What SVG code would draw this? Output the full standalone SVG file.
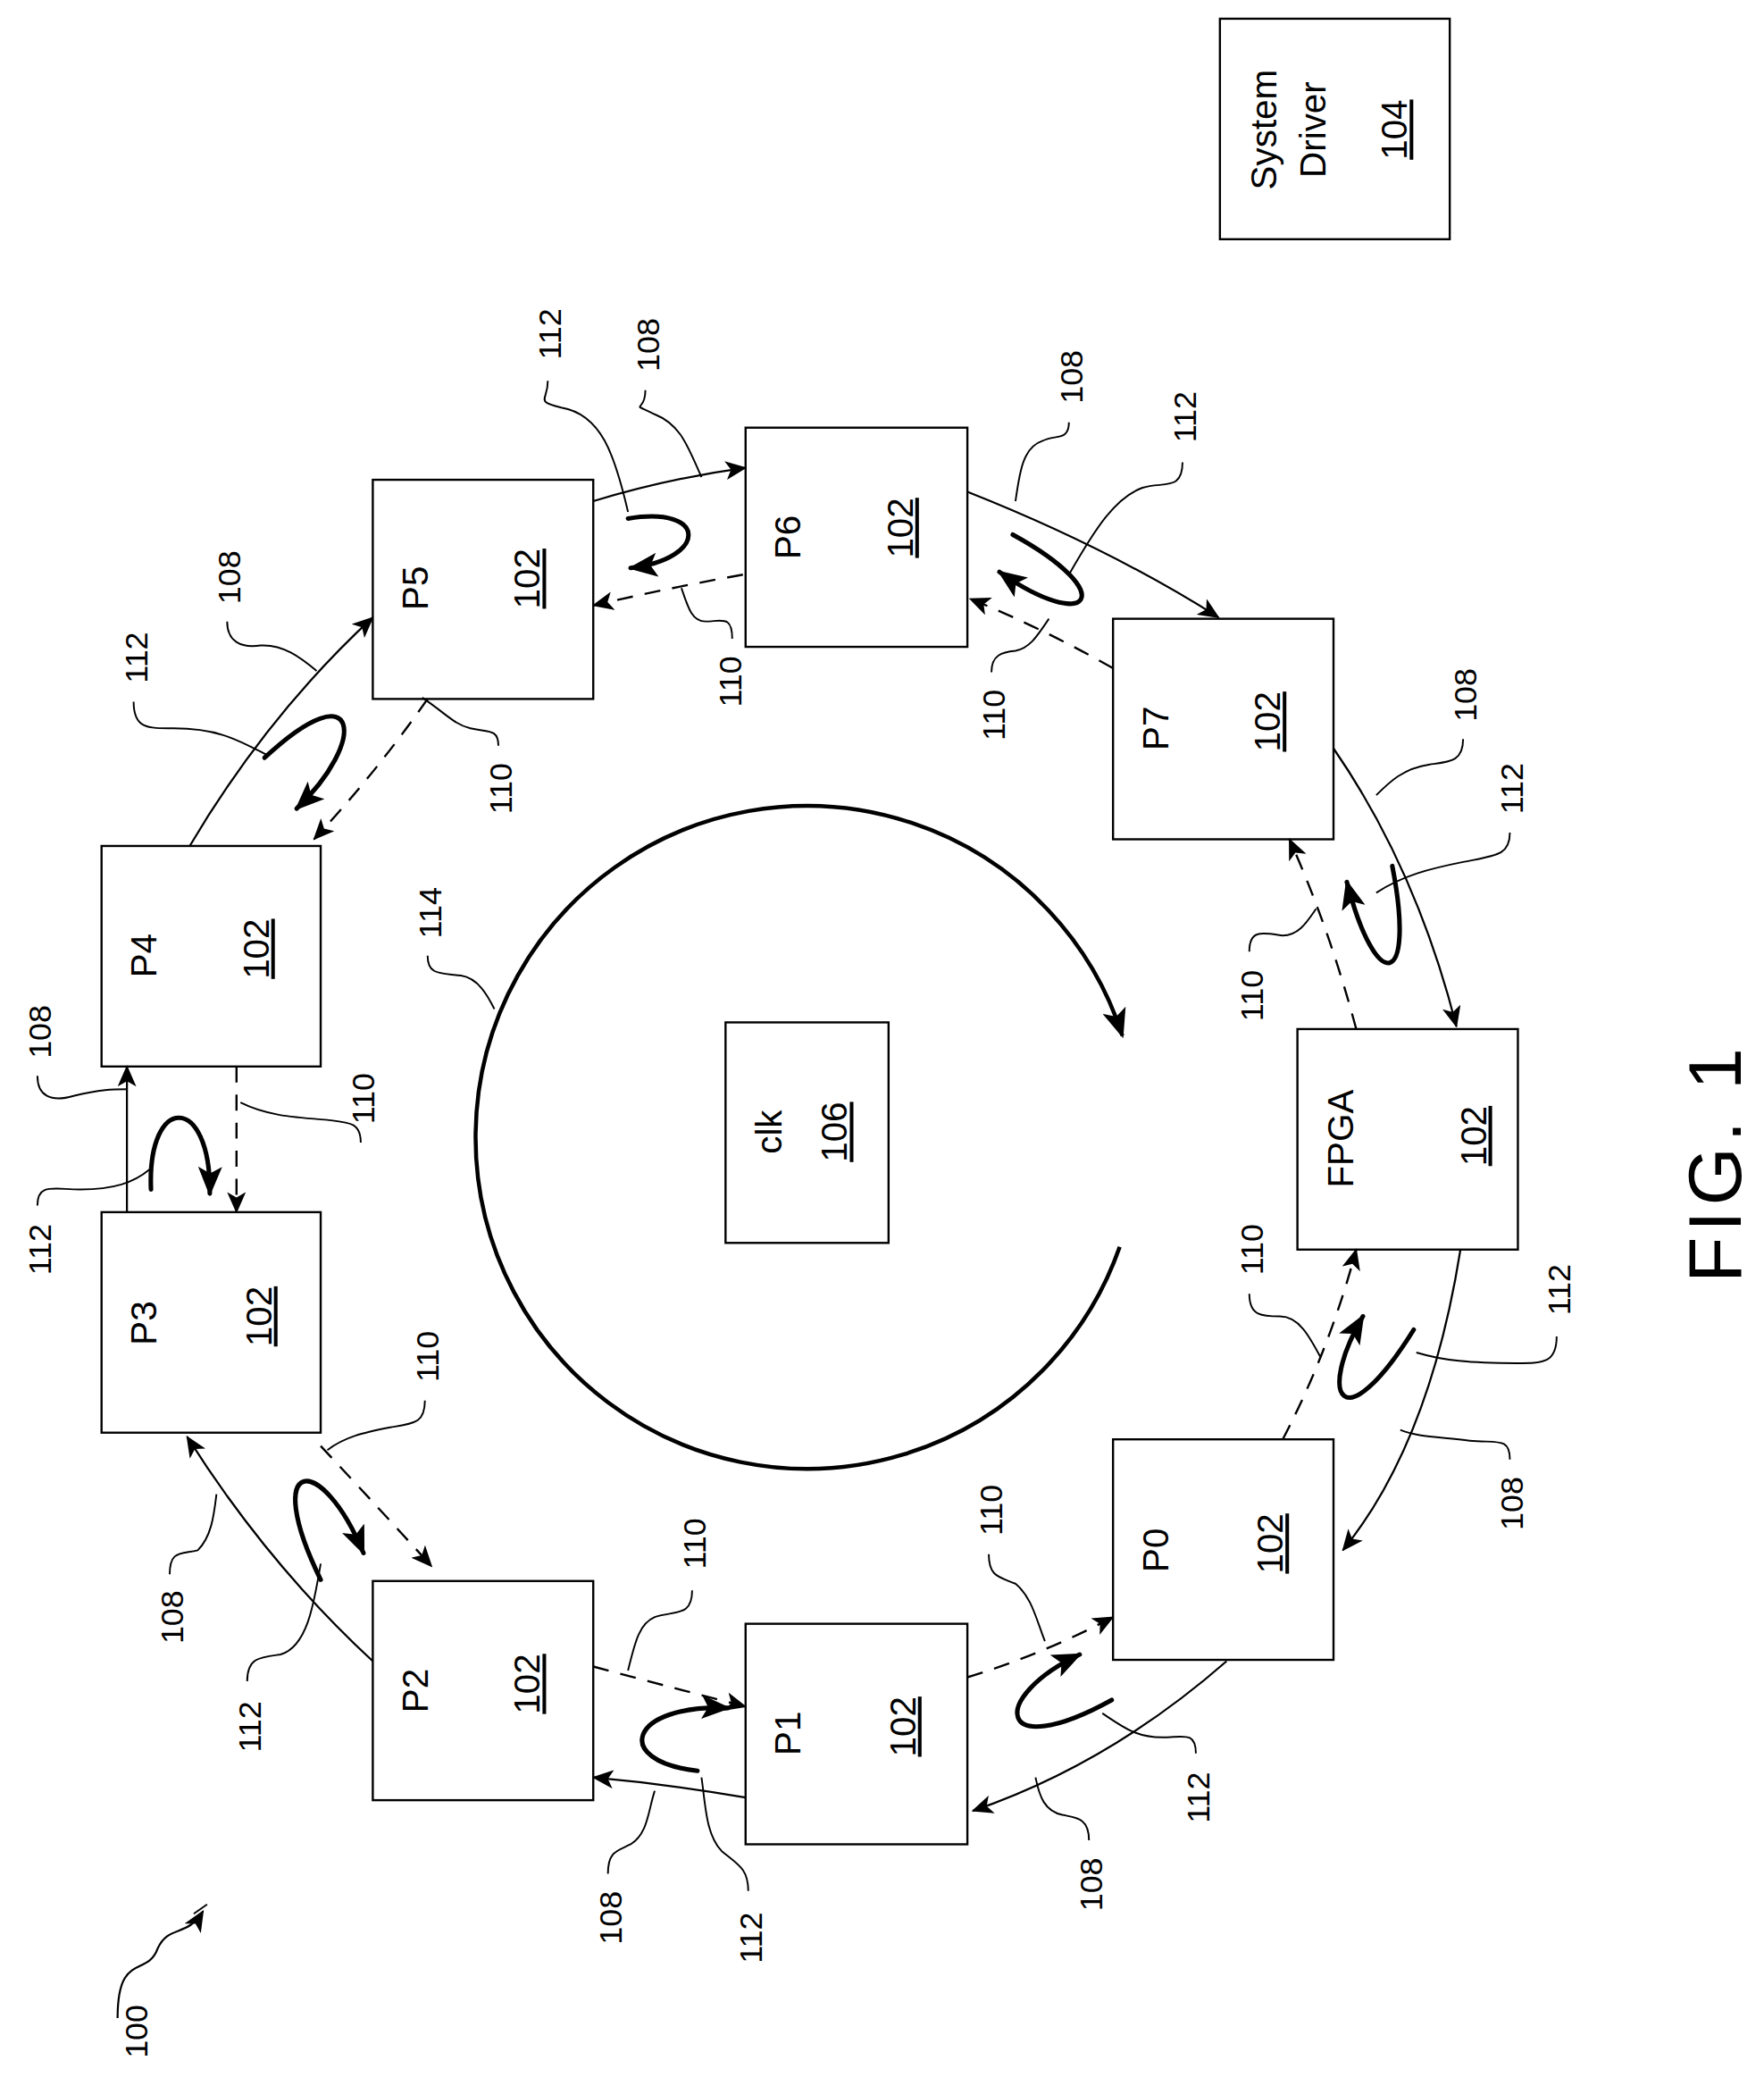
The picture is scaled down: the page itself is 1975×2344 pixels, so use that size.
<svg xmlns="http://www.w3.org/2000/svg" width="1975" height="2344" viewBox="0 0 1975 2344">
<defs>
<marker id="ah" markerUnits="userSpaceOnUse" markerWidth="16" markerHeight="14" refX="15" refY="7" orient="auto"><path d="M0,0 L16,7 L0,14 L4,7 Z" fill="#000"/></marker>
<marker id="ahb" markerUnits="userSpaceOnUse" markerWidth="22" markerHeight="18" refX="20" refY="9" orient="auto"><path d="M0,0 L22,9 L0,18 L5,9 Z" fill="#000"/></marker>
<style>
.box{fill:#fff;stroke:#000;stroke-width:1.6}
text{font-family:"Liberation Sans",Arial,sans-serif;fill:#000}
.t{font-size:27px}
.n{font-size:24px}
.s{fill:none;stroke:#000;stroke-width:1.3}
.sol{fill:none;stroke:#000;stroke-width:1.5;marker-end:url(#ah)}
.dash{fill:none;stroke:#000;stroke-width:1.6;stroke-dasharray:12,9;marker-end:url(#ah)}
.u{fill:none;stroke:#000;stroke-width:3.4;stroke-linecap:round;marker-end:url(#ahb)}
.ul{text-decoration:underline}
</style>
</defs>
<rect width="1975" height="2344" fill="#fff"/>
<g transform="scale(1.496)">
<g id="sysdrv"><rect class="box" x="913" y="14" width="172" height="165"/>
<text class="t" transform="translate(955,97) rotate(-90)" text-anchor="middle">System</text>
<text class="t" transform="translate(992,97) rotate(-90)" text-anchor="middle">Driver</text>
<text class="t ul" transform="translate(1053,97) rotate(-90)" text-anchor="middle">104</text></g>
<g id="P5"><rect class="box" x="279" y="359" width="165" height="164"/><text class="t" transform="translate(320,440) rotate(-90)" text-anchor="middle">P5</text><text class="t ul" transform="translate(404,433) rotate(-90)" text-anchor="middle">102</text></g>
<g id="P6"><rect class="box" x="558" y="320" width="166" height="164"/><text class="t" transform="translate(599,402) rotate(-90)" text-anchor="middle">P6</text><text class="t ul" transform="translate(683,395) rotate(-90)" text-anchor="middle">102</text></g>
<g id="P7"><rect class="box" x="833" y="463" width="165" height="165"/><text class="t" transform="translate(874,545) rotate(-90)" text-anchor="middle">P7</text><text class="t ul" transform="translate(958,540) rotate(-90)" text-anchor="middle">102</text></g>
<g id="P4"><rect class="box" x="76" y="633" width="164" height="165"/><text class="t" transform="translate(117,715) rotate(-90)" text-anchor="middle">P4</text><text class="t ul" transform="translate(201,710) rotate(-90)" text-anchor="middle">102</text></g>
<g id="clk"><rect class="box" x="543" y="765" width="122" height="165"/><text class="t" transform="translate(585,847) rotate(-90)" text-anchor="middle">clk</text><text class="t ul" transform="translate(634,847) rotate(-90)" text-anchor="middle">106</text></g>
<g id="FPGA"><rect class="box" x="971" y="770" width="165" height="165"/><text class="t" transform="translate(1013,852) rotate(-90)" text-anchor="middle">FPGA</text><text class="t ul" transform="translate(1112,850) rotate(-90)" text-anchor="middle">102</text></g>
<g id="P3"><rect class="box" x="76" y="907" width="164" height="165"/><text class="t" transform="translate(117,990) rotate(-90)" text-anchor="middle">P3</text><text class="t ul" transform="translate(203,985) rotate(-90)" text-anchor="middle">102</text></g>
<g id="P0"><rect class="box" x="833" y="1077" width="165" height="165"/><text class="t" transform="translate(874,1160) rotate(-90)" text-anchor="middle">P0</text><text class="t ul" transform="translate(960,1155) rotate(-90)" text-anchor="middle">102</text></g>
<g id="P2"><rect class="box" x="279" y="1183" width="165" height="164"/><text class="t" transform="translate(320,1265) rotate(-90)" text-anchor="middle">P2</text><text class="t ul" transform="translate(404,1260) rotate(-90)" text-anchor="middle">102</text></g>
<g id="P1"><rect class="box" x="558" y="1215" width="166" height="165"/><text class="t" transform="translate(599,1297) rotate(-90)" text-anchor="middle">P1</text><text class="t ul" transform="translate(685,1292) rotate(-90)" text-anchor="middle">102</text></g>

<g id="connectors">
<path d="M838,933 A248,248 0 1 1 840,775" fill="none" stroke="#000" stroke-width="3" marker-end="url(#ahb)"/>
<path class="sol" d="M444,375 Q500,358 558,350"/>
<path class="dash" d="M556,430 Q500,440 444,453"/>
<path class="u" d="M470,388 C530,378 530,418 472,425"/>
<path class="sol" d="M724,368 Q830,410 912,462"/>
<path class="dash" d="M833,500 Q780,470 726,448"/>
<path class="u" d="M758,400 C840,445 815,475 748,428"/>
<path class="sol" d="M998,560 Q1060,650 1090,768"/>
<path class="dash" d="M1015,770 Q995,695 965,628"/>
<path class="u" d="M1042,648 C1060,740 1030,745 1008,660"/>
<path class="sol" d="M1093,935 Q1070,1080 1005,1160"/>
<path class="dash" d="M960,1077 Q995,1010 1015,935"/>
<path class="u" d="M1058,995 C1005,1080 985,1045 1020,985"/>
<path class="sol" d="M918,1243 Q830,1320 728,1355"/>
<path class="dash" d="M724,1255 Q780,1238 833,1210"/>
<path class="u" d="M832,1272 C745,1320 740,1270 808,1238"/>
<path class="sol" d="M558,1345 Q500,1335 444,1330"/>
<path class="dash" d="M444,1247 Q500,1262 558,1277"/>
<path class="u" d="M522,1325 C458,1318 470,1275 545,1278"/>
<path class="sol" d="M279,1243 Q200,1170 140,1075"/>
<path class="dash" d="M240,1082 Q285,1130 323,1172"/>
<path class="u" d="M240,1182 C195,1090 240,1085 272,1162"/>
<path class="sol" d="M95,907 L95,798"/>
<path class="dash" d="M177,798 L177,907"/>
<path class="u" d="M113,890 C110,818 158,818 157,893"/>
<path class="sol" d="M142,633 Q200,535 279,462"/>
<path class="dash" d="M320,523 Q280,580 235,628"/>
<path class="u" d="M198,567 C270,500 275,555 222,605"/>
<path class="s" d="M155,1425 L145,1432" />
<path d="M88,1510 C88,1460 110,1480 118,1458 C126,1440 140,1450 152,1430" fill="none" stroke="#000" stroke-width="1.5" marker-end="url(#ah)"/>
</g>

<g id="labels">
<text class="n" transform="translate(420,250) rotate(-90)" text-anchor="middle">112</text><path class="s" d="M410,285 C410,300 400,300 420,305 C450,310 460,340 470,383"/>
<text class="n" transform="translate(493,258) rotate(-90)" text-anchor="middle">108</text><path class="s" d="M483,292 C483,310 470,300 490,310 C510,318 515,335 525,357"/>
<text class="n" transform="translate(810,282) rotate(-90)" text-anchor="middle">108</text><path class="s" d="M800,316 C800,330 790,325 780,330 C765,335 763,355 760,375"/>
<text class="n" transform="translate(895,312) rotate(-90)" text-anchor="middle">112</text><path class="s" d="M885,346 C885,368 870,360 855,365 C835,372 820,395 800,430"/>
<text class="n" transform="translate(752,535) rotate(-90)" text-anchor="middle">110</text><path class="s" d="M742,503 C742,490 750,488 760,487 C770,485 775,478 785,463"/>
<text class="n" transform="translate(555,510) rotate(-90)" text-anchor="middle">110</text><path class="s" d="M548,478 C548,460 540,465 528,465 C518,465 515,455 510,440"/>
<text class="n" transform="translate(383,590) rotate(-90)" text-anchor="middle">110</text><path class="s" d="M373,558 C373,545 365,548 352,545 C340,542 335,535 316,522"/>
<text class="n" transform="translate(180,432) rotate(-90)" text-anchor="middle">108</text><path class="s" d="M170,465 C170,480 180,485 195,483 C212,482 225,492 237,502"/>
<text class="n" transform="translate(110,492) rotate(-90)" text-anchor="middle">112</text><path class="s" d="M100,525 C100,545 110,545 130,545 C165,545 180,555 200,565"/>
<text class="n" transform="translate(330,683) rotate(-90)" text-anchor="middle">114</text><path class="s" d="M320,715 C320,730 330,728 345,730 C358,732 365,745 370,755"/>
<text class="n" transform="translate(38,772) rotate(-90)" text-anchor="middle">108</text><path class="s" d="M28,805 C28,820 38,825 55,820 C75,815 85,815 95,815"/>
<text class="n" transform="translate(38,935) rotate(-90)" text-anchor="middle">112</text><path class="s" d="M28,902 C28,885 40,890 60,890 C85,890 100,885 112,875"/>
<text class="n" transform="translate(280,822) rotate(-90)" text-anchor="middle">110</text><path class="s" d="M270,855 C270,840 262,840 245,838 C220,836 200,835 180,825"/>
<text class="n" transform="translate(328,1015) rotate(-90)" text-anchor="middle">110</text><path class="s" d="M318,1048 C318,1065 310,1065 292,1068 C272,1072 258,1075 245,1085"/>
<text class="n" transform="translate(137,1210) rotate(-90)" text-anchor="middle">108</text><path class="s" d="M127,1178 C127,1160 135,1163 148,1160 C158,1150 160,1135 162,1118"/>
<text class="n" transform="translate(195,1292) rotate(-90)" text-anchor="middle">112</text><path class="s" d="M185,1258 C185,1240 195,1240 210,1238 C230,1232 235,1200 240,1170"/>
<text class="n" transform="translate(528,1155) rotate(-90)" text-anchor="middle">110</text><path class="s" d="M518,1190 C518,1210 505,1205 490,1210 C478,1215 475,1230 470,1250"/>
<text class="n" transform="translate(465,1435) rotate(-90)" text-anchor="middle">108</text><path class="s" d="M455,1402 C455,1385 462,1385 472,1380 C485,1372 485,1355 490,1340"/>
<text class="n" transform="translate(570,1450) rotate(-90)" text-anchor="middle">112</text><path class="s" d="M560,1415 C560,1398 552,1395 540,1385 C528,1372 528,1350 525,1330"/>
<text class="n" transform="translate(750,1130) rotate(-90)" text-anchor="middle">110</text><path class="s" d="M740,1163 C740,1180 748,1180 760,1185 C772,1195 775,1210 782,1228"/>
<text class="n" transform="translate(825,1410) rotate(-90)" text-anchor="middle">108</text><path class="s" d="M815,1377 C815,1360 805,1360 795,1358 C782,1355 778,1345 775,1330"/>
<text class="n" transform="translate(905,1345) rotate(-90)" text-anchor="middle">112</text><path class="s" d="M895,1312 C895,1295 885,1300 870,1300 C850,1300 840,1292 825,1282"/>
<text class="n" transform="translate(945,935) rotate(-90)" text-anchor="middle">110</text><path class="s" d="M935,968 C935,985 945,985 958,985 C972,985 980,1000 988,1015"/>
<text class="n" transform="translate(1175,965) rotate(-90)" text-anchor="middle">112</text><path class="s" d="M1165,1000 C1165,1020 1155,1020 1135,1020 C1100,1020 1080,1018 1060,1012"/>
<text class="n" transform="translate(1140,1125) rotate(-90)" text-anchor="middle">108</text><path class="s" d="M1130,1092 C1130,1075 1120,1080 1100,1078 C1075,1075 1060,1075 1048,1070"/>
<text class="n" transform="translate(945,745) rotate(-90)" text-anchor="middle">110</text><path class="s" d="M935,712 C935,695 945,698 960,700 C972,700 978,690 985,680"/>
<text class="n" transform="translate(1140,590) rotate(-90)" text-anchor="middle">112</text><path class="s" d="M1130,623 C1130,640 1120,640 1095,645 C1070,650 1050,655 1030,668"/>
<text class="n" transform="translate(1105,520) rotate(-90)" text-anchor="middle">108</text><path class="s" d="M1095,553 C1095,570 1085,570 1070,572 C1050,575 1040,585 1030,595"/>
<text class="n" transform="translate(110,1520) rotate(-90)" text-anchor="middle">100</text>
<text transform="translate(1303,870) rotate(-90)" text-anchor="middle" style="font-size:56px;letter-spacing:4px">FIG. 1</text>
</g>
</g>
</svg>
